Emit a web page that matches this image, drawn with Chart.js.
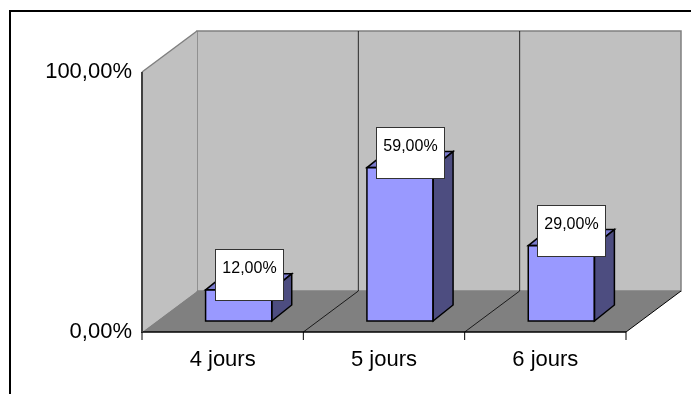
<!DOCTYPE html>
<html>
<head>
<meta charset="utf-8">
<script src="https://cdn.jsdelivr.net/npm/chart.js@4/dist/chart.umd.min.js"></script>
<style>
  body { margin: 0; background: #fff; }
  #wrap { width: 691px; height: 394px; position: relative; }
</style>
</head>
<body>
<div id="wrap"><canvas id="chart" width="691" height="394"></canvas></div>
<script>
const categories = ["4 jours", "5 jours", "6 jours"];
const values = [12, 59, 29];
const yTicks = [0, 100];

// offsets of the 3d box relative to the bar plane (chart area)
const frontShift = { x: -16, y: 11 };
const backShift = { x: 39, y: -30 };
const barDepth = { x: 20, y: -16 };
const fontFam = "'Liberation Sans', Arial, sans-serif";

function fmtPct(v) {
  return v.toFixed(2).replace(".", ",") + "%";
}

function poly(ctx, pts, fill, stroke, lw) {
  ctx.beginPath();
  ctx.moveTo(pts[0][0], pts[0][1]);
  for (let i = 1; i < pts.length; i++) ctx.lineTo(pts[i][0], pts[i][1]);
  ctx.closePath();
  if (fill) { ctx.fillStyle = fill; ctx.fill(); }
  if (stroke) { ctx.strokeStyle = stroke; ctx.lineWidth = lw || 1; ctx.stroke(); }
}

function line(ctx, x1, y1, x2, y2, color, lw) {
  ctx.beginPath();
  ctx.moveTo(x1, y1);
  ctx.lineTo(x2, y2);
  ctx.strokeStyle = color;
  ctx.lineWidth = lw || 1;
  ctx.stroke();
}

// walls, floor and frame
const boxPlugin = {
  id: "box3d",
  beforeDatasetsDraw(chart) {
    const ctx = chart.ctx;
    const a = chart.chartArea;
    const ys = chart.scales.y;
    const y0 = ys.getPixelForValue(0);
    const y1 = ys.getPixelForValue(100);
    const fL = a.left + frontShift.x, fR = a.right + frontShift.x;
    const fB = y0 + frontShift.y, fT = y1 + frontShift.y;
    const bL = a.left + backShift.x, bR = a.right + backShift.x;
    const bB = y0 + backShift.y, bT = y1 + backShift.y;
    ctx.save();
    // back wall
    poly(ctx, [[bL, bT], [bR, bT], [bR, bB], [bL, bB]], "#C0C0C0", "#808080", 1.5);
    // left wall
    poly(ctx, [[fL, fT], [bL, bT], [bL, bB], [fL, fB]], "#C0C0C0", null);
    line(ctx, fL, fT, bL, bT, "#808080", 1.5);
    // floor
    poly(ctx, [[fL, fB], [bL, bB], [bR, bB], [fR, fB]], "#808080", null);
    line(ctx, fR, fB, bR, bB, "#000", 1);
    line(ctx, fL, fB, fR, fB, "#000", 1.5);
    line(ctx, fL, fT, fL, fB + 1, "#404040", 2);
    // category dividers on floor and back wall
    const step = (a.right - a.left) / categories.length;
    for (let i = 0; i <= categories.length; i++) {
      const x = a.left + step * i;
      if (i > 0 && i < categories.length) {
        line(ctx, x + frontShift.x, fB, x + backShift.x, bB, "#000", 0.8);
        line(ctx, x + backShift.x, bB, x + backShift.x, bT, "#000", 0.8);
      }
      line(ctx, x + frontShift.x, fB, x + frontShift.x, fB + 8, "#000", 1);
    }
    ctx.restore();
  },
  afterDatasetsDraw(chart) {
    const ctx = chart.ctx;
    const meta = chart.getDatasetMeta(0);
    ctx.save();
    meta.data.forEach((bar) => {
      const half = bar.width / 2;
      const l = bar.x - half, r = bar.x + half;
      const t = bar.y, b = bar.base;
      const dx = barDepth.x, dy = barDepth.y;
      poly(ctx, [[l, t], [l + dx, t + dy], [r + dx, t + dy], [r, t]], "#7A7ACC", "#000", 1.5);
      poly(ctx, [[r, t], [r + dx, t + dy], [r + dx, b + dy], [r, b]], "#4D4D80", "#000", 1.5);
      ctx.strokeStyle = "#000";
      ctx.lineWidth = 1.5;
      ctx.strokeRect(l, t, r - l, b - t);
    });
    // value labels
    meta.data.forEach((bar, i) => {
      const cx = bar.x + barDepth.x / 2;
      const w = 68, h = 51;
      const bx = Math.round(cx - w / 2) + 0.5;
      const by = Math.round(bar.y + 10 - h) + 0.5;
      ctx.fillStyle = "#fff";
      ctx.fillRect(bx, by, w, h);
      ctx.strokeStyle = "#333";
      ctx.lineWidth = 1;
      ctx.strokeRect(bx, by, w, h);
      ctx.fillStyle = "#000";
      ctx.font = "16px " + fontFam;
      ctx.textAlign = "center";
      ctx.textBaseline = "middle";
      ctx.fillText(fmtPct(values[i]), bx + w / 2, by + 19);
    });
    // outer frame
    ctx.strokeStyle = "#000";
    ctx.lineWidth = 2;
    ctx.strokeRect(10, 11, 720, 420);
    ctx.restore();
  }
};

new Chart(document.getElementById("chart"), {
  type: "bar",
  data: {
    labels: categories,
    datasets: [{
      data: values,
      backgroundColor: "#9999FF",
      borderColor: "#000",
      borderWidth: 0,
      categoryPercentage: 1,
      barPercentage: 0.41
    }]
  },
  options: {
    responsive: false,
    animation: false,
    layout: { padding: { left: 0, top: 61, right: 49, bottom: 0 } },
    plugins: { legend: { display: false }, tooltip: { enabled: false } },
    scales: {
      x: {
        grid: { display: false, drawTicks: false },
        border: { display: false },
        ticks: {
          color: "#000",
          font: { family: fontFam, size: 22 },
          padding: 26,
          labelOffset: frontShift.x
        },
        afterFit(scale) { scale.height = 73; }
      },
      y: {
        min: 0,
        max: 100,
        afterBuildTicks(scale) { scale.ticks = yTicks.map(v => ({ value: v })); },
        grid: { display: false, drawTicks: false },
        border: { display: false },
        ticks: {
          color: "#000",
          font: { family: fontFam, size: 22 },
          padding: 26,
          labelOffset: frontShift.y,
          callback: v => fmtPct(v)
        },
        afterFit(scale) { scale.width = 158; }
      }
    }
  },
  plugins: [boxPlugin]
});
</script>
</body>
</html>
